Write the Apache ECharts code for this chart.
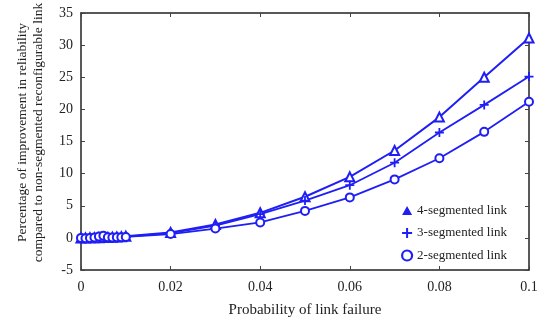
<!DOCTYPE html>
<html>
<head>
<meta charset="utf-8">
<script src="https://cdn.jsdelivr.net/npm/echarts@6/dist/echarts.min.js"></script>
<style>
  html, body { margin: 0; padding: 0; background: #fff; }
  #chart { width: 545px; height: 323px; }
</style>
</head>
<body>
<div id="chart"></div>
<script>
// failure probabilities (x)
const probs = [0, 0.001, 0.002, 0.003, 0.004, 0.005, 0.006, 0.007, 0.008, 0.009, 0.01,
  0.02, 0.03, 0.04, 0.05, 0.06, 0.07, 0.08, 0.09, 0.1];
const seg4 = [0, 0, 0.01, 0.02, 0.03, 0.05, 0.07, 0.1, 0.13, 0.17, 0.25,
  0.85, 2.1, 3.9, 6.4, 9.5, 13.6, 18.8, 25.0, 31.1];
const seg3 = [0, 0, 0.01, 0.02, 0.03, 0.04, 0.06, 0.08, 0.11, 0.15, 0.2,
  0.75, 1.9, 3.7, 5.8, 8.2, 11.7, 16.4, 20.7, 25.1];
const seg2 = [0, -0.05, 0, 0.05, 0.2, 0.35, 0.1, 0.05, 0.08, 0.1, 0.15,
  0.6, 1.45, 2.4, 4.2, 6.3, 9.1, 12.4, 16.5, 21.2];
const seriesNames = ['4-segmented link', '3-segmented link', '2-segmented link'];
const xTicks = [0, 0.02, 0.04, 0.06, 0.08, 0.1];

const blue = '#1f1ff5';
const plusPath = 'path://M4,0h2v4h4v2h-4v4h-2v-4h-4v-2h4z';
const font = '"Liberation Serif", "DejaVu Serif", serif';

const chart = echarts.init(document.getElementById('chart'), null, { renderer: 'canvas' });

function pairs(ys) {
  return probs.map((p, i) => [p, ys[i]]);
}

function fmtX(v) {
  const s = xTicks.find(t => Math.abs(t - v) < 1e-9);
  return s === undefined ? '' : String(Math.round(s * 100) / 100);
}

const axisLine = { show: true, onZero: false, lineStyle: { color: '#222', width: 1.5 } };
const tickStyle = { inside: true, length: 4, lineStyle: { color: '#444', width: 1 } };

chart.setOption({
  animation: false,
  textStyle: { fontFamily: font },
  grid: { left: 81, right: 16, top: 13, bottom: 48, containLabel: false },
  legend: {
    orient: 'vertical',
    left: 396,
    top: 199,
    itemGap: 9.5,
    itemWidth: 10,
    itemHeight: 12,
    textStyle: { fontFamily: font, fontSize: 13, color: '#222' },
    data: [
      { name: seriesNames[0], icon: 'path://M5,0L10,9L0,9Z', itemStyle: { color: blue } },
      { name: seriesNames[1], icon: plusPath, itemStyle: { color: blue } },
      { name: seriesNames[2], icon: 'path://M5,1A4,4,0,1,1,4.99,1Z', itemStyle: { color: 'rgba(255,255,255,0)', borderColor: blue, borderWidth: 2.2 } }
    ]
  },
  xAxis: [
    {
      type: 'value', min: 0, max: 0.1, interval: 0.02,
      axisLine: axisLine, axisTick: tickStyle, splitLine: { show: false },
      axisLabel: { fontFamily: font, fontSize: 14, color: '#222', margin: 10, formatter: fmtX },
      name: 'Probability of link failure', nameLocation: 'middle', nameGap: 33,
      nameTextStyle: { fontFamily: font, fontSize: 15, color: '#222' }
    },
    {
      type: 'value', position: 'top', min: 0, max: 0.1, interval: 0.02,
      axisLine: axisLine, axisTick: tickStyle, axisLabel: { show: false }, splitLine: { show: false }
    }
  ],
  yAxis: [
    {
      type: 'value', min: -5, max: 35, interval: 5,
      axisLine: axisLine, axisTick: tickStyle, splitLine: { show: false },
      axisLabel: { fontFamily: font, fontSize: 14, color: '#222', margin: 8 },
      name: 'Percentage of improvement in reliability\ncompared to non-segmented reconfigurable link',
      nameLocation: 'middle', nameRotate: 90, nameGap: 35,
      nameTextStyle: { fontFamily: font, fontSize: 13.5, color: '#222', lineHeight: 16, padding: [0, 0, 0, 18] }
    },
    {
      type: 'value', position: 'right', min: -5, max: 35, interval: 5,
      axisLine: axisLine, axisTick: tickStyle, axisLabel: { show: false }, splitLine: { show: false }
    }
  ],
  series: [
    {
      name: seriesNames[0], type: 'line', data: pairs(seg4),
      symbol: 'emptyTriangle', symbolSize: 9, showAllSymbol: true,
      lineStyle: { color: blue, width: 2 }, itemStyle: { color: blue, borderWidth: 1.2 }
    },
    {
      name: seriesNames[1], type: 'line', data: pairs(seg3),
      symbol: plusPath, symbolSize: 9, showAllSymbol: true,
      lineStyle: { color: blue, width: 1.8 }, itemStyle: { color: blue }
    },
    {
      name: seriesNames[2], type: 'line', data: pairs(seg2),
      symbol: 'emptyCircle', symbolSize: 8, showAllSymbol: true,
      lineStyle: { color: blue, width: 1.8 }, itemStyle: { color: blue, borderWidth: 1.2 }
    }
  ]
});
</script>
</body>
</html>
